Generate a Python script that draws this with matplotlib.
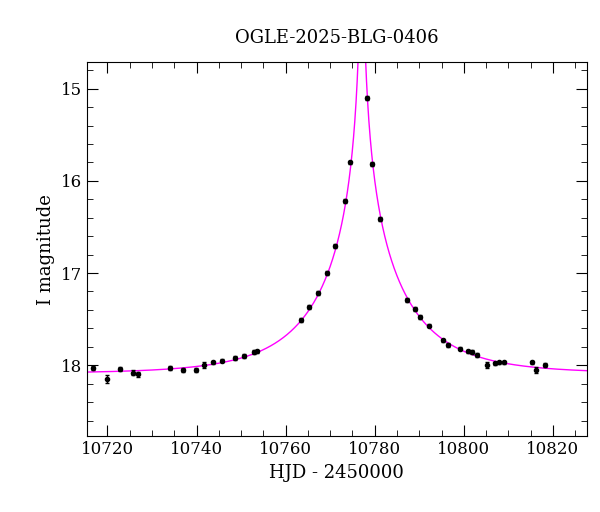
import numpy as np
import matplotlib
matplotlib.use("Agg")
import matplotlib.pyplot as plt
from matplotlib.ticker import MultipleLocator

hjd = [10716.65, 10719.86, 10722.79, 10725.71, 10726.84, 10734.02, 10736.94, 10739.87, 10741.66,
       10743.64, 10745.72, 10748.65, 10750.63, 10752.89, 10753.55, 10763.46, 10765.26, 10767.24,
       10769.32, 10771.11, 10773.37, 10774.41, 10778.28, 10779.41, 10781.21, 10787.25, 10789.04,
       10790.17, 10792.25, 10795.36, 10796.50, 10799.14, 10800.93, 10801.88, 10803.01, 10805.27,
       10807.07, 10807.92, 10809.05, 10815.37, 10816.3, 10818.30]
mag = [18.03, 18.15, 18.04, 18.08, 18.10, 18.03, 18.05, 18.05, 18.00,
       17.97, 17.95, 17.92, 17.90, 17.86, 17.85, 17.51, 17.37, 17.22,
       17.00, 16.71, 16.22, 15.80, 15.10, 15.82, 16.41, 17.29, 17.39,
       17.48, 17.57, 17.73, 17.78, 17.82, 17.85, 17.86, 17.89, 18.00,
       17.98, 17.97, 17.97, 17.97, 18.05, 18.00]
err = [0.02, 0.04, 0.02, 0.03, 0.03, 0.02, 0.02, 0.02, 0.03,
       0.02, 0.02, 0.02, 0.02, 0.02, 0.02, 0.02, 0.02, 0.02,
       0.02, 0.02, 0.02, 0.02, 0.02, 0.02, 0.02, 0.02, 0.02,
       0.02, 0.02, 0.02, 0.02, 0.02, 0.02, 0.02, 0.02, 0.03,
       0.02, 0.02, 0.02, 0.02, 0.03, 0.02]

# Paczynski model parameters
t0, tE, u0, I0 = 10777.1, 19.8, 0.01, 18.09

plt.rcParams["font.family"] = "DejaVu Serif"
fig = plt.figure(figsize=(6, 5.12), dpi=100)
ax = fig.add_axes([0.145, 0.148, 0.833, 0.731])

t = np.linspace(10705, 10830, 4000)
u = np.sqrt(u0**2 + ((t - t0) / tE)**2)
A = (u**2 + 2) / (u * np.sqrt(u**2 + 4))
ax.plot(t, I0 - 2.5 * np.log10(A), color="magenta", lw=1)
ax.errorbar(hjd, mag, yerr=err, fmt="o", color="black", ms=3, capsize=1.5, elinewidth=1)

ax.set_xlim(10715.4, 10827.6)
ax.set_ylim(18.77, 14.71)
ax.xaxis.set_major_locator(MultipleLocator(20))
ax.xaxis.set_minor_locator(MultipleLocator(5))
ax.yaxis.set_major_locator(MultipleLocator(1))
ax.yaxis.set_minor_locator(MultipleLocator(0.2))
ax.tick_params(which="both", direction="in", top=True, right=True, labelsize=12)
ax.tick_params(which="major", length=8)
ax.tick_params(which="minor", length=4)
ax.set_xlabel("HJD - 2450000", fontsize=13)
ax.set_ylabel("I magnitude", fontsize=13)
ax.set_title("OGLE-2025-BLG-0406", fontsize=13, pad=14)
fig.savefig("out.png", dpi=100)
